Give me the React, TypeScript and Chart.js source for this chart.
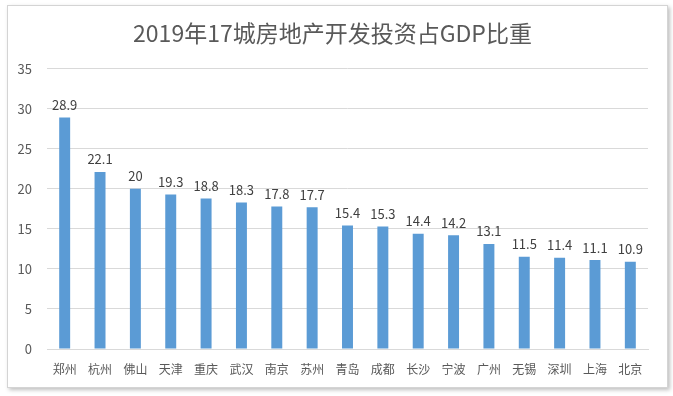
import React, { useEffect, useRef } from "react";
import { Chart, registerables } from "chart.js";

Chart.register(...registerables);

const TITLE = "2019年17城房地产开发投资占GDP比重";
const cities = ["郑州", "杭州", "佛山", "天津", "重庆", "武汉", "南京", "苏州", "青岛", "成都", "长沙", "宁波", "广州", "无锡", "深圳", "上海", "北京"];
const shares = [28.9, 22.1, 20, 19.3, 18.8, 18.3, 17.8, 17.7, 15.4, 15.3, 14.4, 14.2, 13.1, 11.5, 11.4, 11.1, 10.9];
const yMin = 0;
const yMax = 35;
const yStep = 5;

const FONT = "'Noto Sans CJK SC', 'Noto Sans', sans-serif";

const valueLabels = {
  id: "valueLabels",
  afterDatasetsDraw(chart: any) {
    const ctx = chart.ctx;
    const meta = chart.getDatasetMeta(0);
    ctx.save();
    ctx.font = `13px ${FONT}`;
    ctx.fillStyle = "#404040";
    ctx.textAlign = "center";
    ctx.textBaseline = "bottom";
    meta.data.forEach((bar: any, i: number) => {
      ctx.fillText(String(shares[i]), bar.x, bar.y - 6);
    });
    ctx.restore();
  },
};

export default function App() {
  const ref = useRef<HTMLCanvasElement | null>(null);
  useEffect(() => {
    if (!ref.current) return;
    const chart = new Chart(ref.current, {
      type: "bar",
      data: {
        labels: cities,
        datasets: [
          {
            data: shares,
            backgroundColor: "#5B9BD5",
            borderWidth: 0,
            categoryPercentage: 1,
            barPercentage: 0.31,
          },
        ],
      },
      options: {
        responsive: false,
        animation: false,
        layout: { padding: { top: 10, left: 17, right: 25, bottom: 0 } },
        plugins: {
          legend: { display: false },
          tooltip: { enabled: false },
          title: {
            display: true,
            text: TITLE,
            color: "#595959",
            font: { family: FONT, size: 23, weight: "normal" },
            padding: { top: 9, bottom: 22 },
          },
        },
        scales: {
          x: {
            grid: { display: false, drawTicks: false },
            border: { display: true, color: "#d9d9d9" },
            ticks: {
              color: "#595959",
              font: { family: FONT, size: 12 },
              padding: 13,
              maxRotation: 0,
              autoSkip: false,
            },
            afterFit(s: any) {
              s.height = 47;
            },
          },
          y: {
            min: yMin,
            max: yMax,
            grid: { color: "#d9d9d9", drawTicks: false },
            border: { display: false },
            ticks: {
              stepSize: yStep,
              color: "#595959",
              font: { family: FONT, size: 13 },
              padding: 15,
            },
            afterFit(s: any) {
              s.width = 30;
            },
          },
        },
      },
      plugins: [valueLabels],
    });
    return () => chart.destroy();
  }, []);

  return (
    <div style={{ position: "fixed", left: 0, top: 0, width: 673, height: 396, background: "#ffffff" }}>
      <div
        style={{
          position: "absolute",
          left: 7,
          top: 5,
          width: 659,
          height: 381,
          border: "1px solid #d4d4d4",
          boxShadow: "2px 2px 4px rgba(0,0,0,0.25)",
          background: "#ffffff",
        }}
      />
      <canvas ref={ref} width={673} height={396} style={{ position: "absolute", left: 0, top: 0, width: 673, height: 396 }} />
    </div>
  );
}
